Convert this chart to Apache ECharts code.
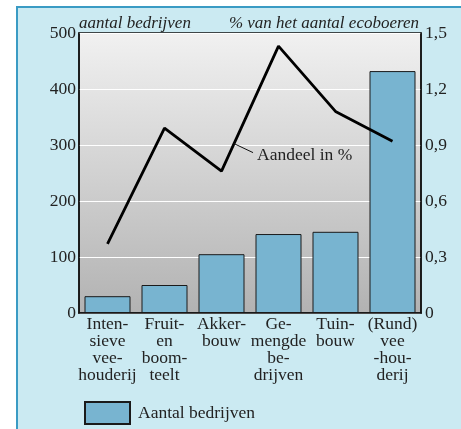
<!DOCTYPE html>
<html>
<head>
<meta charset="utf-8">
<script src="https://cdn.jsdelivr.net/npm/echarts@6/dist/echarts.min.js"></script>
<style>
  html, body { margin: 0; padding: 0; background: #fff; }
  #panel {
    position: absolute; left: 16px; top: 6px; width: 460px; height: 430px;
    background: #cbeaf2; border-left: 2px solid #3a9bc4; border-top: 2px solid #3a9bc4;
  }
  #myChart { position: absolute; left: 0; top: 0; width: 461px; height: 429px; }
</style>
</head>
<body>
<div id="panel"></div>
<div id="myChart"></div>
<script>
// sectoren
var categories = [
  'Inten-\nsieve\nvee-\nhouderij',
  'Fruit-\nen\nboom-\nteelt',
  'Akker-\nbouw',
  'Ge-\nmengde\nbe-\ndrijven',
  'Tuin-\nbouw',
  '(Rund)\nvee\n-hou-\nderij'
]
// aantal bedrijven (linker as)
var aantalBedrijven = [30, 50, 105, 141, 145, 432]
// aandeel in % van het aantal ecoboeren (rechter as)
var aandeelProcent = [0.37, 0.99, 0.76, 1.43, 1.08, 0.92]
var leftTicks = [0, 500, 100]
var rightTicks = [0, 1.5, 0.3]

var font = 'Liberation Serif'
var myChart = echarts.init(document.getElementById('myChart'))

var option = {
  animation: false,
  backgroundColor: 'transparent',
  textStyle: { fontFamily: font },
  grid: {
    left: 79, right: 40, top: 33, bottom: 116,
    show: true,
    borderColor: '#111',
    borderWidth: 1.5,
    backgroundColor: new echarts.graphic.LinearGradient(0, 0, 0, 1, [
      { offset: 0, color: '#f1f1f1' },
      { offset: 1, color: '#b2b2b2' }
    ])
  },
  legend: {
    left: 79, top: 396,
    itemWidth: 45, itemHeight: 22, itemGap: 10,
    icon: 'rect',
    data: ['Aantal bedrijven'],
    textStyle: { fontFamily: font, fontSize: 17.5, color: '#222', padding: [0, 0, 0, 3] }
  },
  xAxis: {
    type: 'category',
    data: categories,
    axisLine: { show: true, lineStyle: { color: '#111', width: 1.5 } },
    axisTick: { show: false },
    axisLabel: {
      interval: 0, margin: 3,
      fontFamily: font, fontSize: 17.5, lineHeight: 17, color: '#222'
    }
  },
  yAxis: [
    {
      type: 'value',
      min: leftTicks[0], max: leftTicks[1], interval: leftTicks[2],
      name: 'aantal bedrijven',
      nameLocation: 'end',
      nameGap: 1,
      nameMoveOverlap: false,
      nameTextStyle: { fontFamily: font, fontStyle: 'italic', fontSize: 17, color: '#222', align: 'left', padding: [0, 0, 0, 0] },
      axisLine: { show: true, lineStyle: { color: '#111', width: 1.5 } },
      axisTick: { show: false },
      axisLabel: { margin: 3, fontFamily: font, fontSize: 17.5, color: '#222' },
      splitLine: { show: true, lineStyle: { color: '#ffffff', width: 1 } }
    },
    {
      type: 'value',
      min: rightTicks[0], max: rightTicks[1], interval: rightTicks[2],
      name: '% van het aantal ecoboeren',
      nameLocation: 'end',
      nameGap: 1,
      nameMoveOverlap: false,
      nameTextStyle: { fontFamily: font, fontStyle: 'italic', fontSize: 17, color: '#222', align: 'right', padding: [0, 2, 0, 0] },
      axisLine: { show: true, lineStyle: { color: '#111', width: 1.5 } },
      axisTick: { show: false },
      axisLabel: {
        margin: 4, fontFamily: font, fontSize: 17.5, color: '#222',
        formatter: function (v) { return v === 0 ? '0' : v.toFixed(1).replace('.', ',') }
      },
      splitLine: { show: false }
    }
  ],
  series: [
    {
      name: 'Aantal bedrijven',
      type: 'bar',
      data: aantalBedrijven,
      barWidth: 46,
      itemStyle: { color: '#78b4d0', borderColor: '#1a1a1a', borderWidth: 1 }
    },
    {
      name: 'Aandeel in %',
      type: 'line',
      yAxisIndex: 1,
      data: aandeelProcent,
      symbol: 'none',
      z: 5,
      lineStyle: { color: '#000', width: 2.8 }
    }
  ]
}
myChart.setOption(option)

// annotatie "Aandeel in %" met wijslijn, vanaf een punt op de lijn tussen Akkerbouw en Gemengde bedrijven
var p3 = myChart.convertToPixel({ seriesIndex: 1 }, [2, aandeelProcent[2]])
var p4 = myChart.convertToPixel({ seriesIndex: 1 }, [3, aandeelProcent[3]])
var t = 0.22
var sx = p3[0] + t * (p4[0] - p3[0])
var sy = p3[1] + t * (p4[1] - p3[1])
myChart.setOption({
  graphic: [
    {
      type: 'line', z: 10,
      shape: { x1: sx, y1: sy, x2: sx + 19, y2: sy + 9 },
      style: { stroke: '#111', lineWidth: 1 }
    },
    {
      type: 'text', z: 10,
      x: sx + 23, y: sy + 12,
      style: { text: 'Aandeel in %', font: '17.5px "' + font + '"', fill: '#222', verticalAlign: 'middle' }
    }
  ]
})
</script>
</body>
</html>
